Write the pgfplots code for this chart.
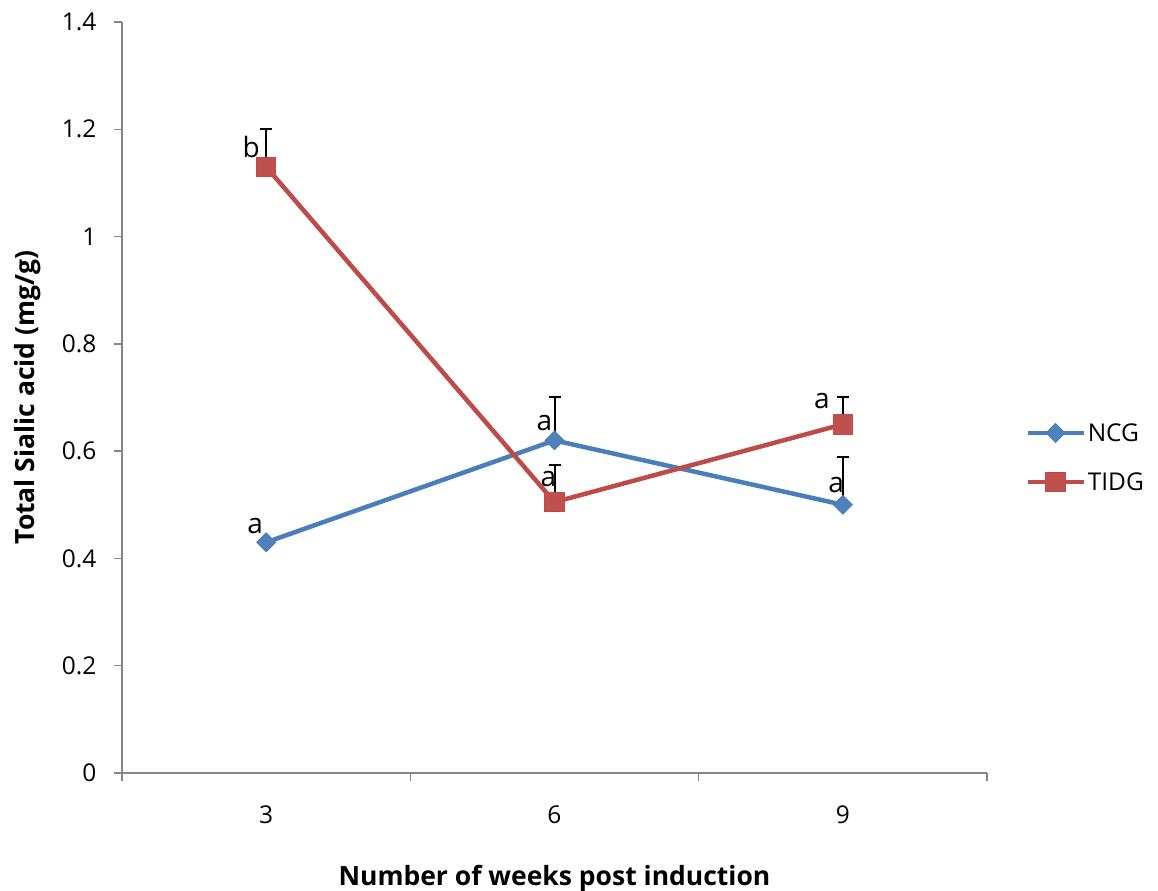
\documentclass[border=0pt]{standalone}
\usepackage{pgfplots}
\pgfplotsset{compat=1.18}
\usepackage{fontspec}
\setmainfont{Open Sans}
\usetikzlibrary{calc}

\definecolor{axisgray}{HTML}{868686}
\definecolor{ncgblue}{HTML}{4A7EBB}
\definecolor{ncgfill}{HTML}{4F81BD}
\definecolor{tidgred}{HTML}{BE4B48}
\definecolor{tidgfill}{HTML}{C0504D}

\newcommand{\tickfont}{\fontsize{24.5bp}{29bp}\selectfont}
\newcommand{\letterfont}{\fontsize{28bp}{33bp}\selectfont}
\newcommand{\labelfont}{\fontsize{26.5bp}{31bp}\selectfont\bfseries}

\begin{document}
\begin{tikzpicture}
\begin{axis}[
  scale only axis,
  width=865bp, height=751bp,
  xmin=-0.5, xmax=2.5,
  ymin=0, ymax=1.4,
  axis x line*=bottom,
  axis y line*=left,
  axis line style={draw=axisgray, line width=1.5bp},
  tick align=outside,
  xtick={0,1,2},
  xticklabels={3,6,9},
  major x tick style={draw=none},
  minor xtick={-0.5,0.5,1.5,2.5},
  ytick={0,0.2,0.4,0.6,0.8,1,1.2,1.4},
  yticklabels={0,0.2,0.4,0.6,0.8,1,1.2,1.4},
  every tick/.style={draw=axisgray, line width=1.5bp},
  major tick length=8bp,
  minor tick length=8bp,
  tick label style={font=\tickfont},
  yticklabel style={xshift=-14bp},
  xticklabel style={yshift=-21bp},
  xlabel={Number of weeks post induction},
  ylabel={Total Sialic acid (mg/g)},
  label style={font=\labelfont},
  xlabel style={yshift=-35bp},
  ylabel style={yshift=14bp},
  clip=false,
  legend style={
    at={(rel axis cs:1.044,0.42)}, anchor=west,
    draw=none, fill=none, font=\tickfont,
    inner sep=0pt, row sep=26bp,
    cells={anchor=west},
  },
  legend image code/.code={
    \draw[mark repeat=2, mark phase=2]
      plot coordinates {(0bp,0bp) (28bp,0bp) (56bp,0bp)};
  },
  error bars/error bar style={black, line width=2bp},
  error bars/error mark options={black, rotate=90, mark size=6bp, line width=2bp},
]

% Normal control group
\addplot[
  color=ncgblue, line width=4.5bp,
  mark=square*, mark size=6.6bp,
  mark options={rotate=45, fill=ncgfill, draw=ncgblue, line width=1bp},
  error bars/.cd, y dir=plus, y explicit,
] table[x=x, y=y, y error=e] {
  x y    e
  0 0.43 0.005
  1 0.62 0.08
  2 0.50 0.09
};
\addlegendentry{NCG}

% Treated (induced) group
\addplot[
  color=tidgred, line width=4.5bp,
  mark=square*, mark size=9.8bp,
  mark options={fill=tidgfill, draw=tidgred, line width=1bp},
  error bars/.cd, y dir=plus, y explicit,
] table[x=x, y=y, y error=e] {
  x y    e
  0 1.13 0.07
  1 0.505 0.07
  2 0.65 0.05
};
\addlegendentry{TIDG}

% significance letters
\node[font=\letterfont, anchor=base] at (axis cs:-0.038,0.447) {a};
\node[font=\letterfont, anchor=base] at (axis cs:-0.052,1.148) {b};
\node[font=\letterfont, anchor=base] at (axis cs:0.965,0.638) {a};
\node[font=\letterfont, anchor=base] at (axis cs:0.979,0.535) {a};
\node[font=\letterfont, anchor=base] at (axis cs:1.927,0.680) {a};
\node[font=\letterfont, anchor=base] at (axis cs:1.977,0.522) {a};

\coordinate (ll) at (rel axis cs:0,0);
\coordinate (ur) at (rel axis cs:1,1);
\end{axis}
\pgfresetboundingbox
\path ([shift={(-122bp,-118bp)}]ll) rectangle ([shift={(171bp,22bp)}]ur);
\end{tikzpicture}
\end{document}
